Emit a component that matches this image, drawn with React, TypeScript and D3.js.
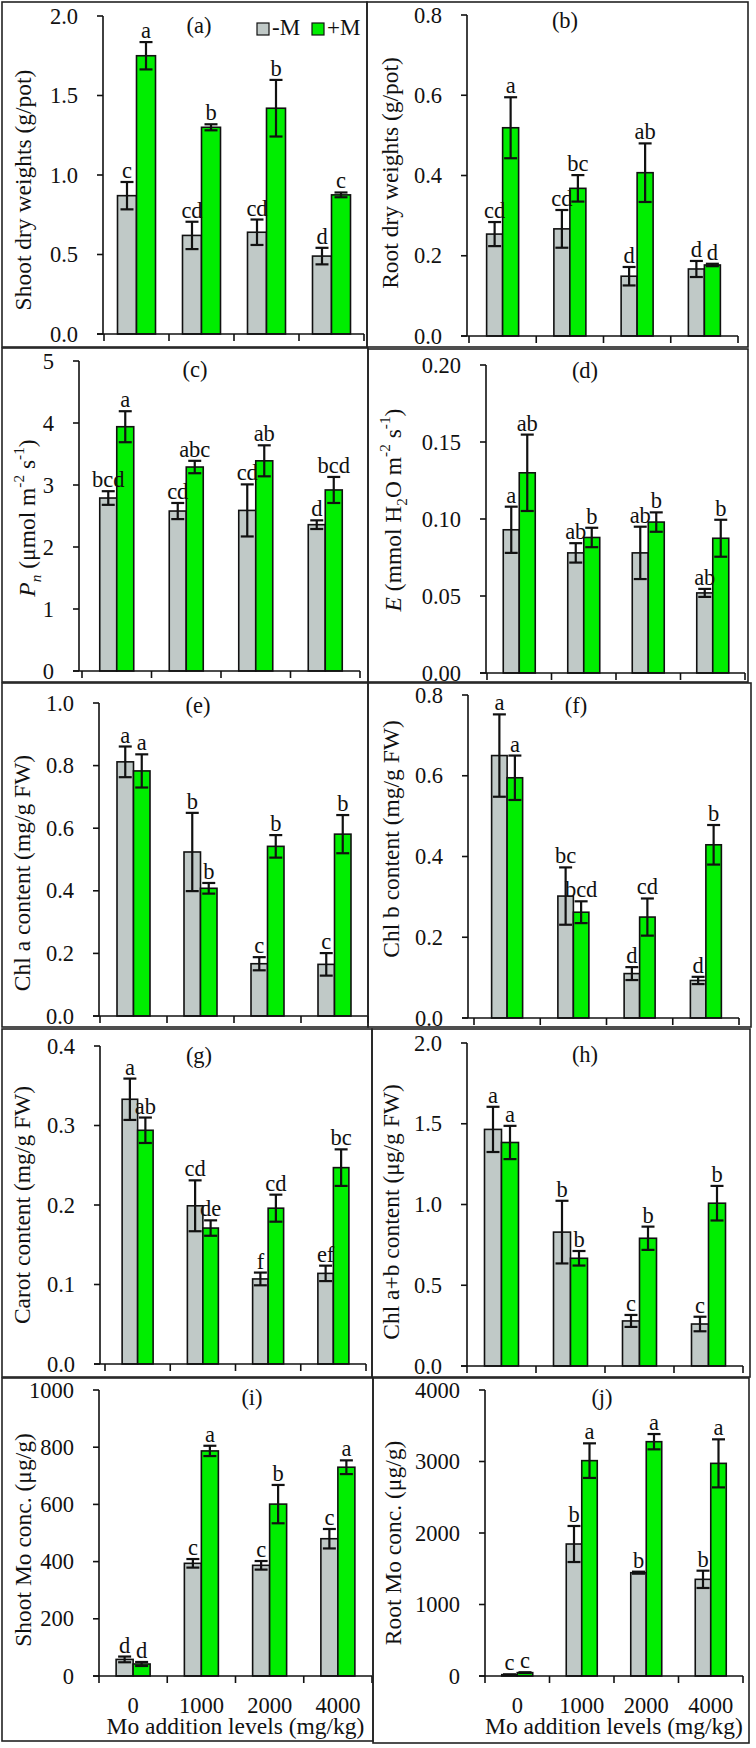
import React from "react";
import * as d3 from "d3";

const categories = ["0", "1000", "2000", "4000"];
const seriesNames = ["-M", "+M"];
const seriesColors = ["#c0c9c7", "#00ee00"];
const xAxisTitle = "Mo addition levels (mg/kg)";

// (a) Shoot dry weights
const shootDwMinus = [0.87, 0.62, 0.64, 0.49];
const shootDwMinusErr = [0.086, 0.086, 0.08, 0.052];
const shootDwPlus = [1.75, 1.3, 1.42, 0.875];
const shootDwPlusErr = [0.086, 0.019, 0.178, 0.015];
const shootDwMinusLetters = ["c", "cd", "cd", "d"];
const shootDwPlusLetters = ["a", "b", "b", "c"];
const shootDwTicks = [0, 0.5, 1.0, 1.5, 2.0];

// (b) Root dry weights
const rootDwMinus = [0.254, 0.267, 0.149, 0.167];
const rootDwMinusErr = [0.03, 0.047, 0.023, 0.02];
const rootDwPlus = [0.519, 0.368, 0.407, 0.177];
const rootDwPlusErr = [0.076, 0.033, 0.073, 0.003];
const rootDwMinusLetters = ["cd", "cd", "d", "d"];
const rootDwPlusLetters = ["a", "bc", "ab", "d"];
const rootDwTicks = [0, 0.2, 0.4, 0.6, 0.8];

// (c) Pn
const pnMinus = [2.79, 2.58, 2.59, 2.36];
const pnMinusErr = [0.11, 0.13, 0.42, 0.07];
const pnPlus = [3.94, 3.29, 3.39, 2.92];
const pnPlusErr = [0.25, 0.1, 0.25, 0.21];
const pnMinusLetters = ["bcd", "cd", "cd", "d"];
const pnPlusLetters = ["a", "abc", "ab", "bcd"];
const pnTicks = [0, 1, 2, 3, 4, 5];

// (d) E
const eMinus = [0.093, 0.078, 0.078, 0.052];
const eMinusErr = [0.015, 0.0063, 0.017, 0.0026];
const ePlus = [0.13, 0.088, 0.098, 0.0875];
const ePlusErr = [0.0248, 0.0063, 0.0063, 0.012];
const eMinusLetters = ["a", "ab", "ab", "ab"];
const ePlusLetters = ["ab", "b", "b", "b"];
const eTicks = [0, 0.05, 0.1, 0.15, 0.2];

// (e) Chl a
const chlaMinus = [0.812, 0.524, 0.167, 0.165];
const chlaMinusErr = [0.049, 0.125, 0.021, 0.036];
const chlaPlus = [0.783, 0.408, 0.542, 0.581];
const chlaPlusErr = [0.053, 0.017, 0.036, 0.061];
const chlaMinusLetters = ["a", "b", "c", "c"];
const chlaPlusLetters = ["a", "b", "b", "b"];
const chlaTicks = [0, 0.2, 0.4, 0.6, 0.8, 1.0];

// (f) Chl b
const chlbMinus = [0.65, 0.302, 0.11, 0.093];
const chlbMinusErr = [0.102, 0.071, 0.016, 0.009];
const chlbPlus = [0.595, 0.262, 0.25, 0.429];
const chlbPlusErr = [0.055, 0.027, 0.046, 0.049];
const chlbMinusLetters = ["a", "bc", "d", "d"];
const chlbPlusLetters = ["a", "bcd", "cd", "b"];
const chlbTicks = [0, 0.2, 0.4, 0.6, 0.8];

// (g) Carot
const carotMinus = [0.333, 0.199, 0.107, 0.114];
const carotMinusErr = [0.026, 0.032, 0.008, 0.0097];
const carotPlus = [0.294, 0.171, 0.196, 0.247];
const carotPlusErr = [0.016, 0.0097, 0.017, 0.023];
const carotMinusLetters = ["a", "cd", "f", "ef"];
const carotPlusLetters = ["ab", "de", "cd", "bc"];
const carotTicks = [0, 0.1, 0.2, 0.3, 0.4];

// (h) Chl a+b
const chlabMinus = [1.465, 0.829, 0.279, 0.26];
const chlabMinusErr = [0.14, 0.194, 0.037, 0.045];
const chlabPlus = [1.384, 0.667, 0.791, 1.008];
const chlabPlusErr = [0.103, 0.045, 0.072, 0.107];
const chlabMinusLetters = ["a", "b", "c", "c"];
const chlabPlusLetters = ["a", "b", "b", "b"];
const chlabTicks = [0, 0.5, 1.0, 1.5, 2.0];

// (i) Shoot Mo conc.
const shootMoMinus = [58, 394, 387, 480];
const shootMoMinusErr = [10, 15, 15, 34];
const shootMoPlus = [42, 787, 601, 730];
const shootMoPlusErr = [7, 18, 67, 24];
const shootMoMinusLetters = ["d", "c", "c", "c"];
const shootMoPlusLetters = ["d", "a", "b", "a"];
const shootMoTicks = [0, 200, 400, 600, 800, 1000];

// (j) Root Mo conc.
const rootMoMinus = [19, 1846, 1445, 1352];
const rootMoMinusErr = [4, 252, 14, 121];
const rootMoPlus = [47, 3012, 3277, 2974];
const rootMoPlusErr = [5, 242, 107, 336];
const rootMoMinusLetters = ["c", "b", "b", "b"];
const rootMoPlusLetters = ["c", "a", "a", "a"];
const rootMoTicks = [0, 1000, 2000, 3000, 4000];

type Seg = { t: string; i?: boolean; sub?: boolean; sup?: boolean };

const panels = [
  {
    label: "(a)", title: [{ t: "Shoot dry weights (g/pot)" }] as Seg[],
    minus: shootDwMinus, minusErr: shootDwMinusErr, plus: shootDwPlus, plusErr: shootDwPlusErr,
    minusL: shootDwMinusLetters, plusL: shootDwPlusLetters, ticks: shootDwTicks, fmt: ".1f",
    box: [2, 2, 367, 347], ax: 103, x0: 104, x1: 364, yb: 334, yt: 16, bw: 19,
    tx: 23, ty: 190, lx: 199, ly: 33, legend: true, xlabels: false,
  },
  {
    label: "(b)", title: [{ t: "Root dry weights (g/pot)" }] as Seg[],
    minus: rootDwMinus, minusErr: rootDwMinusErr, plus: rootDwPlus, plusErr: rootDwPlusErr,
    minusL: rootDwMinusLetters, plusL: rootDwPlusLetters, ticks: rootDwTicks, fmt: ".1f",
    box: [367, 2, 748, 347], ax: 467, x0: 469, x1: 738, yb: 336, yt: 15, bw: 16,
    tx: 390, ty: 173, lx: 565, ly: 28, legend: false, xlabels: false,
  },
  {
    label: "(c)",
    title: [{ t: "P", i: true }, { t: "n", i: true, sub: true }, { t: " (μmol m" }, { t: "-2", sup: true }, { t: " s" }, { t: "-1", sup: true }, { t: ")" }] as Seg[],
    minus: pnMinus, minusErr: pnMinusErr, plus: pnPlus, plusErr: pnPlusErr,
    minusL: pnMinusLetters, plusL: pnPlusLetters, ticks: pnTicks, fmt: "d",
    box: [2, 348, 368, 682], ax: 79, x0: 82, x1: 360, yb: 671, yt: 361, bw: 17,
    tx: 27, ty: 518, lx: 195, ly: 377, legend: false, xlabels: false,
  },
  {
    label: "(d)",
    title: [{ t: "E", i: true }, { t: " (mmol H" }, { t: "2", sub: true }, { t: "O m" }, { t: "-2", sup: true }, { t: " s" }, { t: "-1", sup: true }, { t: ")" }] as Seg[],
    minus: eMinus, minusErr: eMinusErr, plus: ePlus, plusErr: ePlusErr,
    minusL: eMinusLetters, plusL: ePlusLetters, ticks: eTicks, fmt: ".2f",
    box: [368, 349, 748, 682], ax: 486, x0: 487, x1: 745, yb: 673, yt: 365, bw: 16,
    tx: 393, ty: 510, lx: 585, ly: 378, legend: false, xlabels: false,
  },
  {
    label: "(e)", title: [{ t: "Chl a content (mg/g FW)" }] as Seg[],
    minus: chlaMinus, minusErr: chlaMinusErr, plus: chlaPlus, plusErr: chlaPlusErr,
    minusL: chlaMinusLetters, plusL: chlaPlusLetters, ticks: chlaTicks, fmt: ".1f",
    box: [2, 683, 368, 1027], ax: 99, x0: 100, x1: 368, yb: 1016, yt: 703, bw: 16.5,
    tx: 22, ty: 873, lx: 198, ly: 713, legend: false, xlabels: false,
  },
  {
    label: "(f)", title: [{ t: "Chl b content (mg/g FW)" }] as Seg[],
    minus: chlbMinus, minusErr: chlbMinusErr, plus: chlbPlus, plusErr: chlbPlusErr,
    minusL: chlbMinusLetters, plusL: chlbPlusLetters, ticks: chlbTicks, fmt: ".1f",
    box: [368, 683, 751, 1027], ax: 468, x0: 474, x1: 739, yb: 1018, yt: 695, bw: 15.5,
    tx: 391, ty: 839, lx: 576, ly: 713, legend: false, xlabels: false,
  },
  {
    label: "(g)", title: [{ t: "Carot content (mg/g FW)" }] as Seg[],
    minus: carotMinus, minusErr: carotMinusErr, plus: carotPlus, plusErr: carotPlusErr,
    minusL: carotMinusLetters, plusL: carotPlusLetters, ticks: carotTicks, fmt: ".1f",
    box: [2, 1029, 372, 1377], ax: 100, x0: 105, x1: 366, yb: 1364, yt: 1046, bw: 15.5,
    tx: 22, ty: 1205, lx: 199, ly: 1063, legend: false, xlabels: false,
  },
  {
    label: "(h)", title: [{ t: "Chl a+b content (μg/g FW)" }] as Seg[],
    minus: chlabMinus, minusErr: chlabMinusErr, plus: chlabPlus, plusErr: chlabPlusErr,
    minusL: chlabMinusLetters, plusL: chlabPlusLetters, ticks: chlabTicks, fmt: ".1f",
    box: [372, 1029, 750, 1377], ax: 467, x0: 467, x1: 743, yb: 1366, yt: 1043, bw: 17,
    tx: 391, ty: 1212, lx: 585, ly: 1062, legend: false, xlabels: false,
  },
  {
    label: "(i)", title: [{ t: "Shoot Mo conc. (μg/g)" }] as Seg[],
    minus: shootMoMinus, minusErr: shootMoMinusErr, plus: shootMoPlus, plusErr: shootMoPlusErr,
    minusL: shootMoMinusLetters, plusL: shootMoPlusLetters, ticks: shootMoTicks, fmt: "d",
    box: [2, 1378, 373, 1741], ax: 99, x0: 99, x1: 372, yb: 1676, yt: 1390, bw: 17,
    tx: 23, ty: 1540, lx: 252, ly: 1405, legend: false, xlabels: true,
  },
  {
    label: "(j)", title: [{ t: "Root Mo conc. (μg/g)" }] as Seg[],
    minus: rootMoMinus, minusErr: rootMoMinusErr, plus: rootMoPlus, plusErr: rootMoPlusErr,
    minusL: rootMoMinusLetters, plusL: rootMoPlusLetters, ticks: rootMoTicks, fmt: "d",
    box: [373, 1378, 749, 1743], ax: 485, x0: 485, x1: 743, yb: 1676, yt: 1390, bw: 15.5,
    tx: 393, ty: 1543, lx: 602, ly: 1405, legend: false, xlabels: true,
  },
];

const FONT = "'Liberation Serif', 'Times New Roman', serif";
const FS = 22.5;
const TFS = 23.5;

function Title({ segs, x, y }: { segs: Seg[]; x: number; y: number }) {
  return (
    <text
      transform={`translate(${x},${y}) rotate(-90)`}
      textAnchor="middle"
      dominantBaseline="central"
      fontSize={TFS}
      fontFamily={FONT}
      fill="#111"
    >
      {segs.map((s, k) => (
        <tspan
          key={k}
          fontStyle={s.i ? "italic" : "normal"}
          fontSize={s.sub || s.sup ? TFS * 0.65 : TFS}
          baselineShift={s.sub ? "sub" : s.sup ? "super" : undefined}
        >
          {s.t}
        </tspan>
      ))}
    </text>
  );
}

function Panel({ p }: { p: any }) {
  const x = d3.scaleBand().domain(categories).range([p.x0, p.x1]).padding(0);
  const y = d3.scaleLinear().domain([0, p.ticks[p.ticks.length - 1]]).range([p.yb, p.yt]);
  const fmt = d3.format(p.fmt);
  const series = [
    { v: p.minus, e: p.minusErr, l: p.minusL },
    { v: p.plus, e: p.plusErr, l: p.plusL },
  ];
  const [bx0, by0, bx1, by1] = p.box;
  const bounds = [p.x0, ...categories.map((c) => (x(c) as number) + x.bandwidth())];
  return (
    <g>
      <rect x={bx0} y={by0} width={bx1 - bx0} height={by1 - by0} fill="none" stroke="#222" strokeWidth={1.6} />
      {/* bars */}
      {series.map((s, si) =>
        categories.map((c, ci) => {
          const cx = (x(c) as number) + x.bandwidth() / 2;
          const left = si === 0 ? cx - p.bw : cx;
          return (
            <rect
              key={`b${si}-${ci}`}
              x={left}
              y={y(s.v[ci])}
              width={p.bw}
              height={y(0) - y(s.v[ci])}
              fill={seriesColors[si]}
              stroke="#111"
              strokeWidth={1.6}
            />
          );
        })
      )}
      {/* error bars */}
      {series.map((s, si) =>
        categories.map((c, ci) => {
          const cx = (x(c) as number) + x.bandwidth() / 2 + (si === 0 ? -p.bw / 2 : p.bw / 2);
          const yh = y(s.v[ci] + s.e[ci]);
          const yl = y(Math.max(0, s.v[ci] - s.e[ci]));
          return (
            <g key={`e${si}-${ci}`} stroke="#111" strokeWidth={2.2}>
              <line x1={cx} x2={cx} y1={yh} y2={yl} />
              <line x1={cx - 6.5} x2={cx + 6.5} y1={yh} y2={yh} />
              <line x1={cx - 6.5} x2={cx + 6.5} y1={yl} y2={yl} />
            </g>
          );
        })
      )}
      {/* letters */}
      {series.map((s, si) =>
        categories.map((c, ci) => {
          const cx = (x(c) as number) + x.bandwidth() / 2 + (si === 0 ? -p.bw / 2 : p.bw / 2);
          return (
            <text
              key={`l${si}-${ci}`}
              x={cx}
              y={y(s.v[ci] + s.e[ci]) - 4}
              textAnchor="middle"
              fontSize={FS}
              fontFamily={FONT}
              fill="#111"
            >
              {s.l[ci]}
            </text>
          );
        })
      )}
      {/* axes */}
      <line x1={p.ax} x2={p.ax} y1={p.yb} y2={p.yt} stroke="#111" strokeWidth={1.6} />
      <line x1={p.ax - 6} x2={p.x1} y1={p.yb} y2={p.yb} stroke="#111" strokeWidth={1.6} />
      {p.ticks.map((t: number) => (
        <g key={`yt${t}`}>
          <line x1={p.ax - 6} x2={p.ax} y1={y(t)} y2={y(t)} stroke="#111" strokeWidth={1.6} />
          <text
            x={p.ax - 25}
            y={y(t)}
            textAnchor="end"
            dominantBaseline="central"
            fontSize={FS}
            fontFamily={FONT}
            fill="#111"
          >
            {fmt(t)}
          </text>
        </g>
      ))}
      {bounds.map((b, k) => (
        <line key={`xt${k}`} x1={b} x2={b} y1={p.yb} y2={p.yb + 7} stroke="#111" strokeWidth={1.6} />
      ))}
      {p.xlabels &&
        categories.map((c) => (
          <text
            key={`xl${c}`}
            x={(x(c) as number) + x.bandwidth() / 2}
            y={1713}
            textAnchor="middle"
            fontSize={FS}
            fontFamily={FONT}
            fill="#111"
          >
            {c}
          </text>
        ))}
      {p.xlabels && (
        <text x={(p.x0 + p.x1) / 2} y={1734} textAnchor="middle" fontSize={TFS} fontFamily={FONT} fill="#111">
          {xAxisTitle}
        </text>
      )}
      <Title segs={p.title} x={p.tx} y={p.ty} />
      <text x={p.lx} y={p.ly} textAnchor="middle" fontSize={FS} fontFamily={FONT} fill="#111">
        {p.label}
      </text>
      {p.legend && (
        <g fontSize={23} fontFamily={FONT} fill="#111">
          {seriesNames.map((n, k) => (
            <g key={n}>
              <rect x={257 + k * 55} y={23} width={12} height={12} fill={seriesColors[k]} stroke="#111" strokeWidth={1.2} />
              <text x={272 + k * 55} y={35}>{n}</text>
            </g>
          ))}
        </g>
      )}
    </g>
  );
}

export default function App() {
  return (
    <svg
      width={756}
      height={1748}
      style={{ position: "absolute", left: 0, top: 0, background: "#fff" }}
    >
      <rect x={0} y={0} width={756} height={1748} fill="#fff" />
      {panels.map((p, i) => (
        <Panel key={i} p={p} />
      ))}
    </svg>
  );
}
